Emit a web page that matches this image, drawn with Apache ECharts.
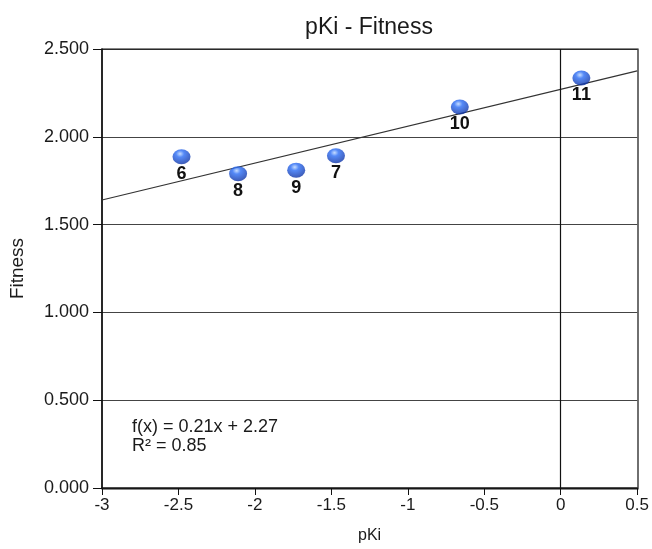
<!DOCTYPE html>
<html>
<head>
<meta charset="utf-8">
<script src="https://cdn.jsdelivr.net/npm/echarts@6/dist/echarts.min.js"></script>
<style>html,body{margin:0;padding:0;background:#fff;}#c{width:652px;height:549px;}</style>
</head>
<body>
<div id="c"></div>
<script>
var pKi = [-2.48, -2.11, -1.73, -1.47, -0.66, 0.135];
var fitness = [1.886, 1.79, 1.81, 1.892, 2.17, 2.335];
var pointLabels = ['6', '8', '9', '7', '10', '11'];
var slope = 0.21, intercept = 2.27;
var trendX = [-3, 0.5];

var font = '"Liberation Sans", Arial, Helvetica, sans-serif';
var chart = echarts.init(document.getElementById('c'));
var pts = pKi.map(function (x, i) { return { value: [x, fitness[i]], name: pointLabels[i] }; });
var trend = trendX.map(function (x) { return [x, slope * x + intercept]; });

chart.setOption({
  animation: false,
  backgroundColor: '#fff',
  title: {
    text: 'pKi - Fitness', left: 364, top: 11, textAlign: 'center',
    textStyle: { fontFamily: font, fontSize: 23, fontWeight: 'normal', color: '#1a1a1a' }
  },
  grid: { left: 102, right: 14, top: 49, bottom: 60 },
  xAxis: {
    type: 'value', min: -3, max: 0.5, interval: 0.5,
    name: 'pKi', nameLocation: 'middle', nameGap: 40,
    nameTextStyle: { fontFamily: font, fontSize: 16, color: '#1a1a1a' },
    axisLine: { show: true, onZero: false, lineStyle: { color: '#111', width: 1.5 } },
    axisTick: { show: true, length: 7, lineStyle: { color: '#111' } },
    axisLabel: { fontFamily: font, fontSize: 17, color: '#1a1a1a', margin: 9 },
    splitLine: { show: false }
  },
  yAxis: {
    type: 'value', min: 0, max: 2.5, interval: 0.5,
    name: 'Fitness', nameLocation: 'middle', nameGap: 75,
    nameTextStyle: { fontFamily: font, fontSize: 19, color: '#1a1a1a' },
    axisLine: { show: true, onZero: false, lineStyle: { color: '#111', width: 1.5 } },
    axisTick: { show: true, length: 9, lineStyle: { color: '#111' } },
    axisLabel: { fontFamily: font, fontSize: 18, color: '#1a1a1a', margin: 13,
      formatter: function (v) { return v.toFixed(3); } },
    splitLine: { show: true, lineStyle: { color: '#444', width: 1.2 } }
  },
  graphic: [
    { type: 'rect', shape: { x: 102, y: 49, width: 536, height: 440 }, style: { fill: 'none', stroke: '#111', lineWidth: 1.2 }, silent: true, z: 1 },
    { type: 'text', left: 132, top: 418, style: { text: 'f(x) = 0.21x + 2.27\nR² = 0.85', fontFamily: font, fontSize: 18, fill: '#1a1a1a', lineHeight: 19 } }
  ],
  series: [
    {
      type: 'line', data: trend, symbol: 'none', silent: true,
      lineStyle: { color: '#333', width: 1.2 }, z: 2,
      markLine: {
        symbol: 'none', silent: true, label: { show: false },
        lineStyle: { color: '#111', width: 1.2, type: 'solid' },
        data: [{ xAxis: 0 }]
      }
    },
    {
      type: 'scatter', data: pts, symbol: 'circle', symbolSize: [18, 15], z: 3,
      itemStyle: {
        color: new echarts.graphic.RadialGradient(0.42, 0.3, 0.75, [
          { offset: 0, color: '#b8d4ff' },
          { offset: 0.3, color: '#2a6cf5' },
          { offset: 1, color: '#0a2c9c' }
        ])
      },
      label: {
        show: true, position: 'bottom', distance: 1,
        formatter: function (p) { return '{a|' + p.name + '}'; },
        rich: { a: { fontFamily: font, fontSize: 18, fontWeight: 'bold', color: '#111' } },
        color: '#111', textBorderWidth: 0, opacity: 1
      }
    }
  ]
});
</script>
</body>
</html>
